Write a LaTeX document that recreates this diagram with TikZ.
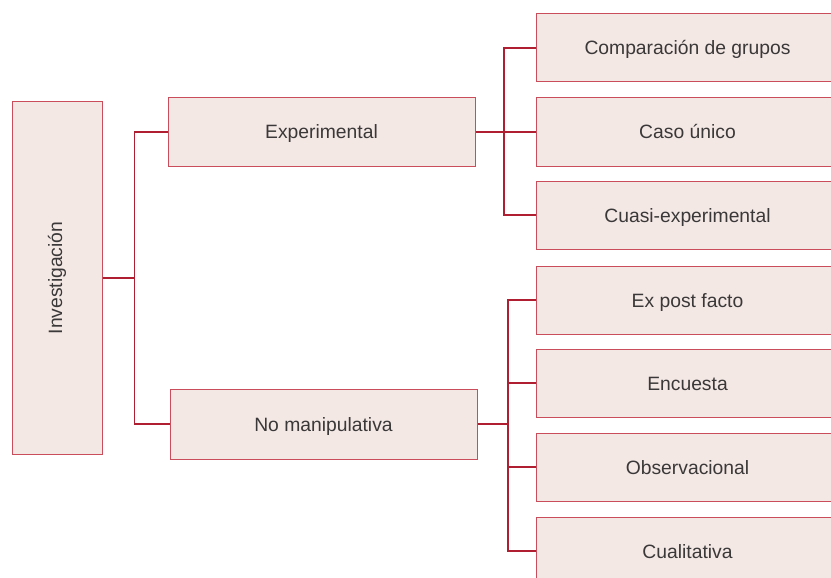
\documentclass[tikz,border=0pt]{standalone}
\usepackage{fontspec}
\setmainfont{Liberation Sans}
\usetikzlibrary{positioning}
\definecolor{boxfill}{HTML}{F4E8E5}
\definecolor{boxline}{HTML}{C94D5B}
\definecolor{linkred}{HTML}{B01E32}
\definecolor{textgray}{HTML}{3A3838}
\begin{document}
\begin{tikzpicture}[x=1pt,y=-1pt,
  box/.style={draw=boxline,fill=boxfill,line width=1pt,inner sep=0pt,
    text=textgray,font=\fontsize{19.3}{23}\selectfont},
  midbox/.style={box,minimum width=307pt,minimum height=69pt,
    text height=14pt,text depth=0pt},
  leafbox/.style={box,minimum width=302pt,minimum height=68pt,anchor=west,
    text height=14pt,text depth=0pt},
  link/.style={draw=linkred,line width=1.2pt}]
\clip (0,0) rectangle (831,578);
\fill[white] (0,0) rectangle (831,578);

% The root
\node[box,minimum width=90pt,minimum height=352pt] (inv) at (57,278)
  {\rotatebox{90}{Investigación}};

% The two kinds
\node[midbox] (exp) at (321.5,132) {Experimental};
\node[midbox,minimum height=70pt] (nom) at (323.5,424) {No manipulativa};

% The leaves
\node[leafbox] (comp)   at (536,48)  {Comparación de grupos};
\node[leafbox] (caso)   at (536,132) {Caso único};
\node[leafbox] (cuasi)  at (536,215) {Cuasi-experimental};
\node[leafbox] (expost) at (536,300) {Ex post facto};
\node[leafbox] (enc)    at (536,383) {Encuesta};
\node[leafbox] (obs)    at (536,467) {Observacional};
\node[leafbox] (cual)   at (536,551) {Cualitativa};

% The links from the root
\draw[link] (inv.east) -- ++(32,0) coordinate (j1);
\draw[link] (exp.west) -| (j1) |- (nom.west);

% The links of Experimental
\draw[link] (exp.east) -- (caso.west);
\draw[link] (comp.west) -- ++(-32,0) |- (cuasi.west);

% The links of No manipulativa
\draw[link] (nom.east) -- ++(31,0) coordinate (j3);
\draw[link] (expost.west) -- ++(-28,0) coordinate (j4) |- (cual.west);
\draw[link] (j4 |- enc.west) -- (enc.west);
\draw[link] (j4 |- obs.west) -- (obs.west);
\end{tikzpicture}
\end{document}
